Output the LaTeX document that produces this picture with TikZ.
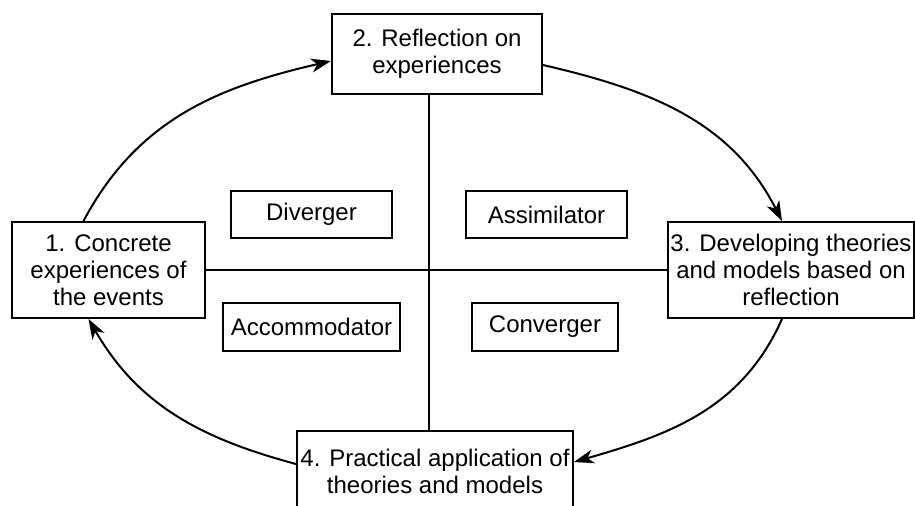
\documentclass[tikz,border=0pt]{standalone}
\usepackage{fontspec}
\setmainfont{Liberation Sans}
\usetikzlibrary{arrows.meta, positioning}

\begin{document}
\begin{tikzpicture}[
                x=0.5pt, y=0.5pt,
                stage/.style={draw, line width=1pt, align=center, inner sep=0pt, font=\fontsize{12pt}{13.5pt}\selectfont},
                learner/.style={draw, line width=0.8pt, align=center, inner sep=0pt, font=\fontsize{12pt}{13.5pt}\selectfont},
                flow/.style={-{Stealth[length=10pt, width=7pt, inset=3pt]}, line width=1pt}
            ]
                \useasboundingbox (0,0) rectangle (915,505);
                \coordinate (mid) at (429,235);

                \node[stage, minimum width=96.5pt, minimum height=48pt] (concrete) at (108.5,235) {1. Concrete\\experiences of\\the events};
                \node[stage, minimum width=105pt, minimum height=40pt] (reflect) at (437,451) {2. Reflection on\\experiences};
                \node[stage, minimum width=123pt, minimum height=48pt] (theory) at (791,235) {3. Developing theories\\and models based on\\reflection};
                \node[stage, minimum width=138pt, minimum height=40pt] (practice) at (435,34) {4. Practical application of\\theories and models};

                \node[learner, minimum width=80.5pt, minimum height=23.5pt] (diverger) at (311.5,290.5) {Diverger};
                \node[learner, minimum width=80.5pt, minimum height=23.5pt] (assimilator) at (546.5,290.5) {Assimilator};
                \node[learner, minimum width=88.5pt, minimum height=24pt] (accommodator) at (311.5,178) {Accommodator};
                \node[learner, minimum width=73pt, minimum height=24pt] (converger) at (545,178) {Converger};

                \draw[line width=1pt] (reflect.south -| mid) -- (practice.north -| mid);
                \draw[line width=1pt] (concrete.east) -- (theory.west);

                \draw[flow] ([xshift=-12.5pt]concrete.north) to[out=62, in=193] ([yshift=-3.5pt]reflect.west);
                \draw[flow] ([yshift=-5.5pt]reflect.east) to[out=-13, in=117] ([xshift=-4.5pt]theory.north);
                \draw[flow] ([xshift=-4.5pt]theory.south) to[out=-114, in=16] ([yshift=4.5pt]practice.east);
                \draw[flow] ([yshift=3.5pt]practice.west) to[out=165, in=-60] ([xshift=-10pt]concrete.south);
            \end{tikzpicture}
\end{document}
